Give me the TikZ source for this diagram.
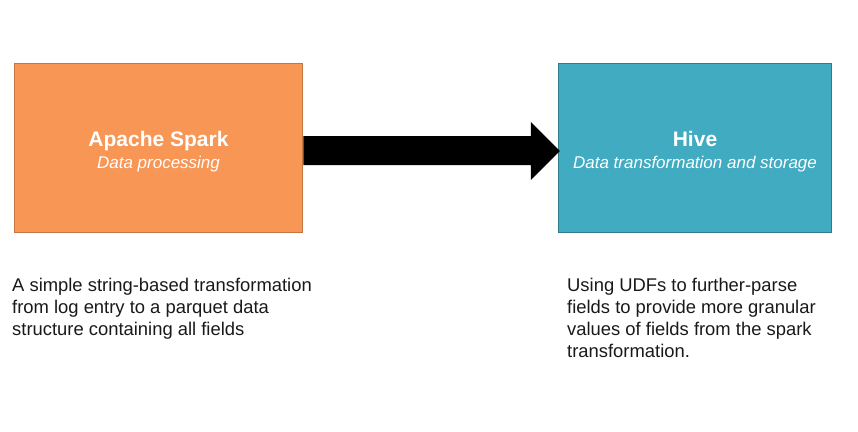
\documentclass[tikz,border=0pt]{standalone}
\usepackage{fontspec}
\setmainfont{Liberation Sans}
\definecolor{sparkfill}{HTML}{F89655}
\definecolor{sparkline}{HTML}{C47641}
\definecolor{hivefill}{HTML}{41ABC2}
\definecolor{hiveline}{HTML}{2F7C8E}
\begin{document}
\begin{tikzpicture}[x=1pt, y=-1pt]
\tikzstyle{box} = [draw, line width=1.5pt, text=white, align=center, inner sep=0pt, minimum height=169pt, font=\fontsize{17}{21.3}\selectfont]
\tikzstyle{note} = [align=left, anchor=base west, inner sep=0pt, text=black!90, font=\fontsize{18.4}{21.7}\selectfont]
\tikzstyle{bigarrow} = [fill=black]
\useasboundingbox (0, 0) rectangle (858, 431);
\node[box, fill=sparkfill, draw=sparkline, minimum width=288pt] (spark) at (158.5, 148)
  {\rule{0pt}{22.3pt}{\fontsize{21}{21.3}\selectfont\bfseries Apache Spark}\\{\itshape Data processing}};
\node[box, fill=hivefill, draw=hiveline, minimum width=273pt] (hive) at (695, 148)
  {\rule{0pt}{22.3pt}{\fontsize{21}{21.3}\selectfont\bfseries Hive}\\{\itshape Data transformation and storage}};
\node[note] (spark_note) at (12, 335)
  {A simple string-based transformation\\from log entry to a parquet data\\structure containing all fields};
\node[note] (hive_note) at (567, 357)
  {Using UDFs to further-parse\\fields to provide more granular\\values of fields from the spark\\transformation.};
\path[bigarrow] ([yshift=12pt]spark.east) -- ([xshift=-27pt, yshift=12pt]hive.west)
  -- ([xshift=-27pt, yshift=26pt]hive.west) -- ([xshift=2pt, yshift=-3pt]hive.west)
  -- ([xshift=-27pt, yshift=-32pt]hive.west) -- ([xshift=-27pt, yshift=-17pt]hive.west)
  -- ([yshift=-17pt]spark.east) -- cycle;
\end{tikzpicture}
\end{document}
